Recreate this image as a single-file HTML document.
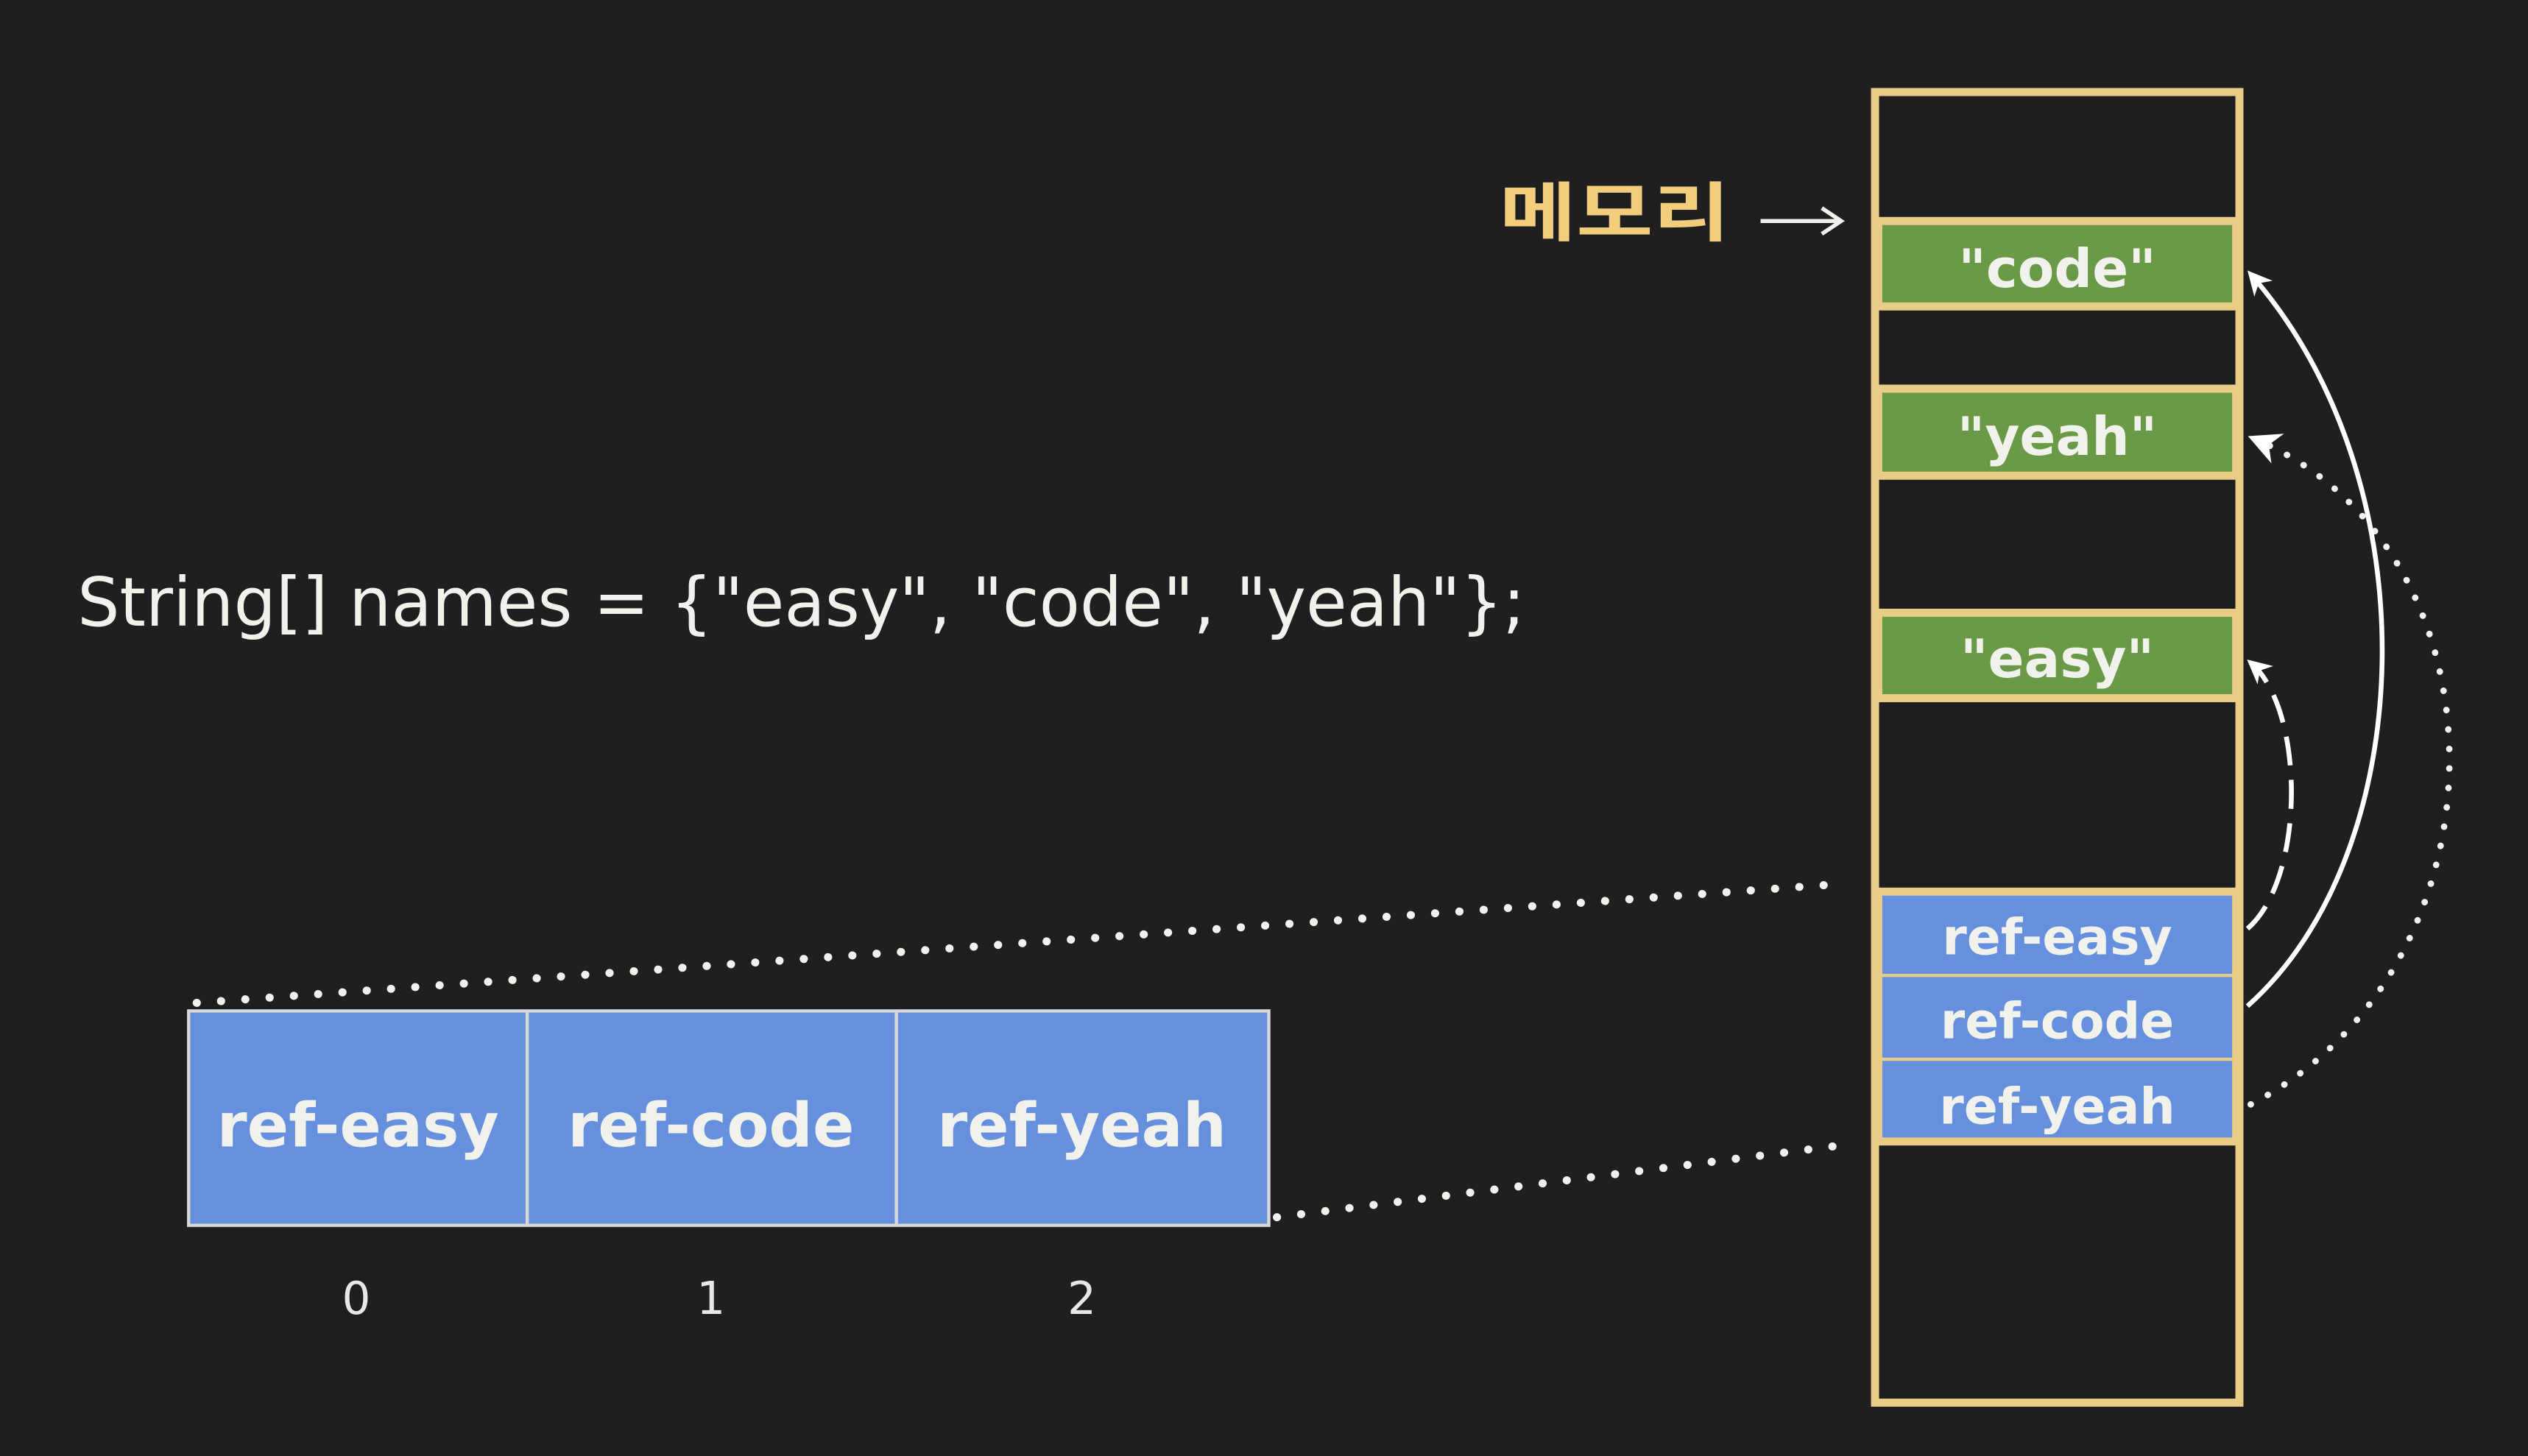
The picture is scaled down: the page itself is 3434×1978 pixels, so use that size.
<!DOCTYPE html>
<html><head><meta charset="utf-8"><style>
html,body{margin:0;padding:0;background:#1f1f21;}
svg{display:block;}
text{font-family:"DejaVu Sans","Liberation Sans","Noto Sans CJK KR",sans-serif;}
</style></head><body>
<svg width="3434" height="1978" viewBox="0 0 1568 903" xmlns="http://www.w3.org/2000/svg">
<defs>
<marker id="ah" viewBox="0 0 10 10" refX="8" refY="5" markerWidth="5" markerHeight="5" orient="auto-start-reverse">
<path d="M0,0 L10,5 L0,10 L3,5 Z" fill="#fff"/></marker>
</defs>
<rect width="1568" height="903" fill="#1f1f21"/>
<rect x="1163" y="57" width="226" height="813" fill="#1e1e20" stroke="#e9cd86" stroke-width="5"/>
<rect x="1165" y="137" width="222" height="53" fill="#6a9a48" stroke="#e9cd86" stroke-width="5"/>
<rect x="1165" y="241" width="222" height="54" fill="#6a9a48" stroke="#e9cd86" stroke-width="5"/>
<rect x="1165" y="380" width="222" height="53" fill="#6a9a48" stroke="#e9cd86" stroke-width="5"/>
<rect x="1165" y="553" width="222" height="155" fill="#6690de" stroke="#e9cd86" stroke-width="5"/>
<line x1="1166" y1="605" x2="1386" y2="605" stroke="#e9cd86" stroke-width="2"/>
<line x1="1166" y1="657" x2="1386" y2="657" stroke="#e9cd86" stroke-width="2"/>
<g fill="#f2f2ec" font-size="33" text-anchor="middle" font-weight="bold">
<text x="1276" y="178">"code"</text>
<text x="1276" y="282">"yeah"</text>
<text x="1276" y="420">"easy"</text>
<text x="1276" y="592" font-size="31">ref-easy</text>
<text x="1276" y="644" font-size="31">ref-code</text>
<text x="1276" y="697" font-size="31">ref-yeah</text>
</g>
<text x="930" y="146" fill="#f2cd7c" font-size="40" font-weight="bold" textLength="143" lengthAdjust="spacingAndGlyphs" font-family="'Noto Sans CJK KR',sans-serif">메모리</text>
<line x1="1092" y1="137" x2="1140" y2="137" stroke="#f2f2ec" stroke-width="2.5"/>
<path d="M1130,129 L1142,137 L1130,145" fill="none" stroke="#f2f2ec" stroke-width="2.5"/>
<text x="48" y="388" fill="#f2f2ec" font-size="42" textLength="898" lengthAdjust="spacingAndGlyphs">String[] names = {"easy", "code", "yeah"};</text>
<rect x="117" y="627" width="670" height="133" fill="#6690de" stroke="#d8d8d8" stroke-width="2"/>
<line x1="327" y1="627" x2="327" y2="760" stroke="#d8d8d8" stroke-width="2"/>
<line x1="556" y1="627" x2="556" y2="760" stroke="#d8d8d8" stroke-width="2"/>
<g fill="#f2f2ec" font-size="38" text-anchor="middle" font-weight="bold">
<text x="222" y="711">ref-easy</text>
<text x="441" y="711">ref-code</text>
<text x="671" y="711">ref-yeah</text>
</g>
<g fill="#e8e8e8" font-size="28" text-anchor="middle">
<text x="221" y="815">0</text><text x="441" y="815">1</text><text x="671" y="815">2</text>
</g>
<g stroke="#f2f2ec" stroke-width="5" stroke-dasharray="0.1 15" stroke-linecap="round" fill="none">
<line x1="122" y1="622" x2="1145" y2="548"/>
<line x1="792" y1="755" x2="1145" y2="710"/>
<path d="M1396,685 C1560,600 1560,340 1398,272" marker-end="url(#ah)" stroke-width="4" stroke-dasharray="0.1 12"/>
</g>
<path d="M1394,624 C1500,530 1510,300 1396,170" stroke="#fff" stroke-width="3" fill="none" marker-end="url(#ah)"/>
<path d="M1394,576 C1430,545 1430,440 1396,411" stroke="#fff" stroke-width="3" stroke-dasharray="18 9" fill="none" marker-end="url(#ah)"/>
</svg>
</body></html>
